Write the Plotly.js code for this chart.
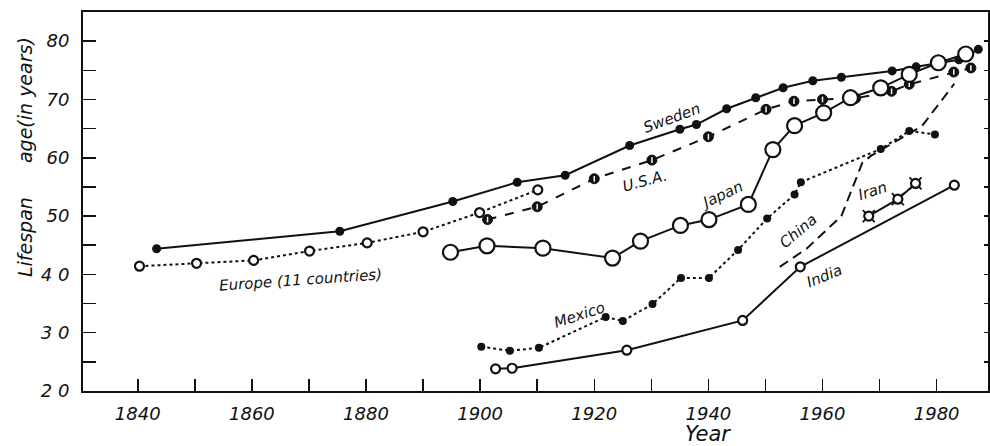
<!DOCTYPE html>
<html>
<head>
<meta charset="utf-8">
<script src="https://cdn.plot.ly/plotly-3.0.1.min.js"></script>
<style>html,body{margin:0;padding:0;background:#fff;}#chart{width:990px;height:446px;}</style>
</head>
<body>
<div id="chart"></div>
<script>
// ---- data ----
const swedenYears = [1843.3, 1875.4, 1895.2, 1906.5, 1914.9, 1926.2, 1935.0, 1937.9, 1943.2, 1948.3, 1953.1, 1958.3, 1963.3, 1972.2, 1976.4, 1983.9, 1987.3];
const swedenAge   = [44.4, 47.4, 52.5, 55.8, 57.0, 62.1, 64.9, 65.7, 68.4, 70.3, 72.0, 73.2, 73.8, 74.9, 75.6, 76.8, 78.6];

const europeYears = [1840.3, 1850.3, 1860.3, 1870.1, 1880.2, 1890.0, 1899.9, 1910.1];
const europeAge   = [41.4, 41.9, 42.4, 44.0, 45.4, 47.3, 50.6, 54.5];

const usaYears = [1901.3, 1910.0, 1920.0, 1930.1, 1940.0, 1950.1, 1955.0, 1960.0, 1965.8, 1972.1, 1975.2, 1983.0, 1986.0];
const usaAge   = [49.4, 51.6, 56.4, 59.6, 63.6, 68.3, 69.7, 70.0, 70.2, 71.4, 72.6, 74.7, 75.4];

const japanYears = [1894.8, 1901.2, 1911.0, 1923.2, 1928.1, 1935.1, 1940.1, 1947.0, 1951.3, 1955.1, 1960.2, 1964.9, 1970.2, 1975.2, 1980.3, 1985.1];
const japanAge   = [43.8, 44.9, 44.5, 42.8, 45.7, 48.4, 49.4, 52.0, 61.4, 65.5, 67.7, 70.3, 72.0, 74.3, 76.3, 77.8];

const mexicoYears = [1900.2, 1905.2, 1910.3, 1922.0, 1925.0, 1930.2, 1935.2, 1940.1, 1945.2, 1950.3, 1955.1, 1956.2, 1970.2, 1975.2, 1979.7];
const mexicoAge   = [27.6, 26.9, 27.4, 32.7, 32.0, 34.9, 39.4, 39.4, 44.2, 49.6, 53.7, 55.8, 61.5, 64.6, 64.0];

const chinaYears = [1952.5, 1957.2, 1963.3, 1967.0, 1968.6, 1977.4, 1983.1];
const chinaAge   = [41.3, 44.4, 50.0, 59.2, 60.4, 65.4, 72.7];

const indiaYears = [1902.7, 1905.6, 1925.7, 1946.0, 1956.1, 1983.1];
const indiaAge   = [23.8, 23.9, 27.0, 32.1, 41.3, 55.3];

const iranYears = [1968.1, 1973.2, 1976.3];
const iranAge   = [50.0, 52.9, 55.6];

const xTickVals = [1840, 1860, 1880, 1900, 1920, 1940, 1960, 1980];
const xTickText = ['1840', '1860', '1880', '1900', '1920', '1940', '1960', '1980'];
const yTickVals = [20, 30, 40, 50, 60, 70, 80];
const yTickText = ['2 0', '3 0', '4 0', '50', '60', '70', '80'];

const seriesLabels = ['Sweden', 'U.S.A.', 'Europe (11 countries)', 'Japan', 'Mexico', 'China', 'Iran', 'India'];
const labelX = [1933.6, 1928.8, 1868.5, 1942.3, 1917.4, 1955.8, 1968.8, 1960.4];
const labelY = [66.9, 56.1, 39.0, 53.7, 33.1, 47.4, 54.3, 39.7];
const labelAngle = [-20, -15, -4, -25, -18, -40, -18, -22];

// ---- drawing ----
const FONT = 'DejaVu Sans, sans-serif';
const BLACK = '#111';
const LW = 2;

const traces = [
  { x: europeYears, y: europeAge, mode: 'lines+markers', line: {color: BLACK, width: LW, dash: 'dot'},
    marker: {symbol: 'circle', size: 9, color: '#fff', line: {color: BLACK, width: 2.2}} },
  { x: usaYears, y: usaAge, mode: 'lines+markers', line: {color: BLACK, width: LW, dash: 'dash'},
    marker: {symbol: 'circle', size: 10, color: BLACK, line: {color: BLACK, width: 1}} },
  { x: usaYears, y: usaAge, mode: 'markers',
    marker: {symbol: 'line-ns', size: 4, color: '#fff', line: {color: '#fff', width: 1.5}} },
  { x: swedenYears, y: swedenAge, mode: 'lines+markers', line: {color: BLACK, width: LW},
    marker: {symbol: 'circle', size: 9, color: BLACK} },
  { x: mexicoYears, y: mexicoAge, mode: 'lines+markers', line: {color: BLACK, width: LW, dash: 'dot'},
    marker: {symbol: 'circle', size: 8, color: BLACK} },
  { x: chinaYears, y: chinaAge, mode: 'lines', line: {color: BLACK, width: LW, dash: '10px,6px'} },
  { x: indiaYears, y: indiaAge, mode: 'lines+markers', line: {color: BLACK, width: LW},
    marker: {symbol: 'circle', size: 9, color: '#fff', line: {color: BLACK, width: 2.2}} },
  { x: iranYears, y: iranAge, mode: 'lines+markers', line: {color: BLACK, width: LW},
    marker: {symbol: 'x-thin-open', size: 12, color: BLACK, line: {color: BLACK, width: 1.8}} },
  { x: iranYears, y: iranAge, mode: 'markers',
    marker: {symbol: 'circle', size: 9, color: '#fff', line: {color: BLACK, width: 2.2}} },
  { x: japanYears, y: japanAge, mode: 'lines+markers', line: {color: BLACK, width: LW},
    marker: {symbol: 'circle', size: 15, color: '#fff', line: {color: BLACK, width: 2.2}} },
  { x: [1900], y: [null], yaxis: 'y2', mode: 'markers', hoverinfo: 'skip' }
].map(t => Object.assign({showlegend: false}, t));

const annotations = seriesLabels.map((txt, i) => ({
  x: labelX[i], y: labelY[i], xref: 'x', yref: 'y', text: txt, showarrow: false,
  xanchor: 'center', yanchor: 'middle',
  textangle: labelAngle[i], font: {family: FONT, size: 15, color: BLACK, style: 'italic'}
}));
annotations.push(
  {x: 1940, y: 0, xref: 'x', yref: 'paper', yshift: -43, xanchor: 'center', yanchor: 'middle',
   text: 'Year', showarrow: false, font: {family: FONT, size: 21, color: BLACK, style: 'italic'}},
  {x: 0, xref: 'paper', xshift: -58, y: 69.9, yref: 'y', xanchor: 'center', yanchor: 'middle',
   text: 'age(in years)', textangle: -90, showarrow: false,
   font: {family: FONT, size: 19, color: BLACK, style: 'italic'}},
  {x: 0, xref: 'paper', xshift: -58, y: 46.4, yref: 'y', xanchor: 'center', yanchor: 'middle',
   text: 'Lifespan', textangle: -90, showarrow: false,
   font: {family: FONT, size: 19, color: BLACK, style: 'italic'}}
);

const tickFont = {family: FONT, size: 18, color: BLACK, style: 'italic'};

const layout = {
  width: 990, height: 446,
  margin: {l: 83, r: 2, t: 12, b: 55},
  paper_bgcolor: '#fff', plot_bgcolor: '#fff',
  showlegend: false,
  xaxis: {
    range: [1830.4, 1989], tickmode: 'array', tickvals: xTickVals, ticktext: xTickText,
    ticks: 'inside', ticklen: 12, tickwidth: 1.5, tickcolor: BLACK,
    minor: {tickmode: 'linear', tick0: 1840, dtick: 10, ticks: 'inside', ticklen: 12, tickwidth: 1.5, tickcolor: BLACK, showgrid: false},
    showline: true, linewidth: 2, linecolor: BLACK, mirror: true,
    showgrid: false, zeroline: false, tickfont: tickFont, ticklabelstandoff: 5
  },
  yaxis: {
    range: [20, 85], tickmode: 'array', tickvals: yTickVals, ticktext: yTickText,
    ticks: 'inside', ticklen: 13, tickwidth: 1.5, tickcolor: BLACK,
    minor: {tickmode: 'linear', tick0: 20, dtick: 5, ticks: 'inside', ticklen: 13, tickwidth: 1.5, tickcolor: BLACK, showgrid: false},
    showline: true, linewidth: 2, linecolor: BLACK,
    showgrid: false, zeroline: false, tickfont: tickFont, ticklabelstandoff: 8
  },
  yaxis2: {
    range: [20, 85], overlaying: 'y', side: 'right', tickmode: 'linear', tick0: 20, dtick: 5,
    ticks: 'inside', ticklen: 4, tickwidth: 1.5, tickcolor: BLACK, showticklabels: false,
    showline: true, linewidth: 2, linecolor: BLACK, showgrid: false, zeroline: false
  },
  annotations: annotations
};

Plotly.newPlot('chart', traces, layout, {displayModeBar: false, staticPlot: true});
</script>
</body>
</html>
